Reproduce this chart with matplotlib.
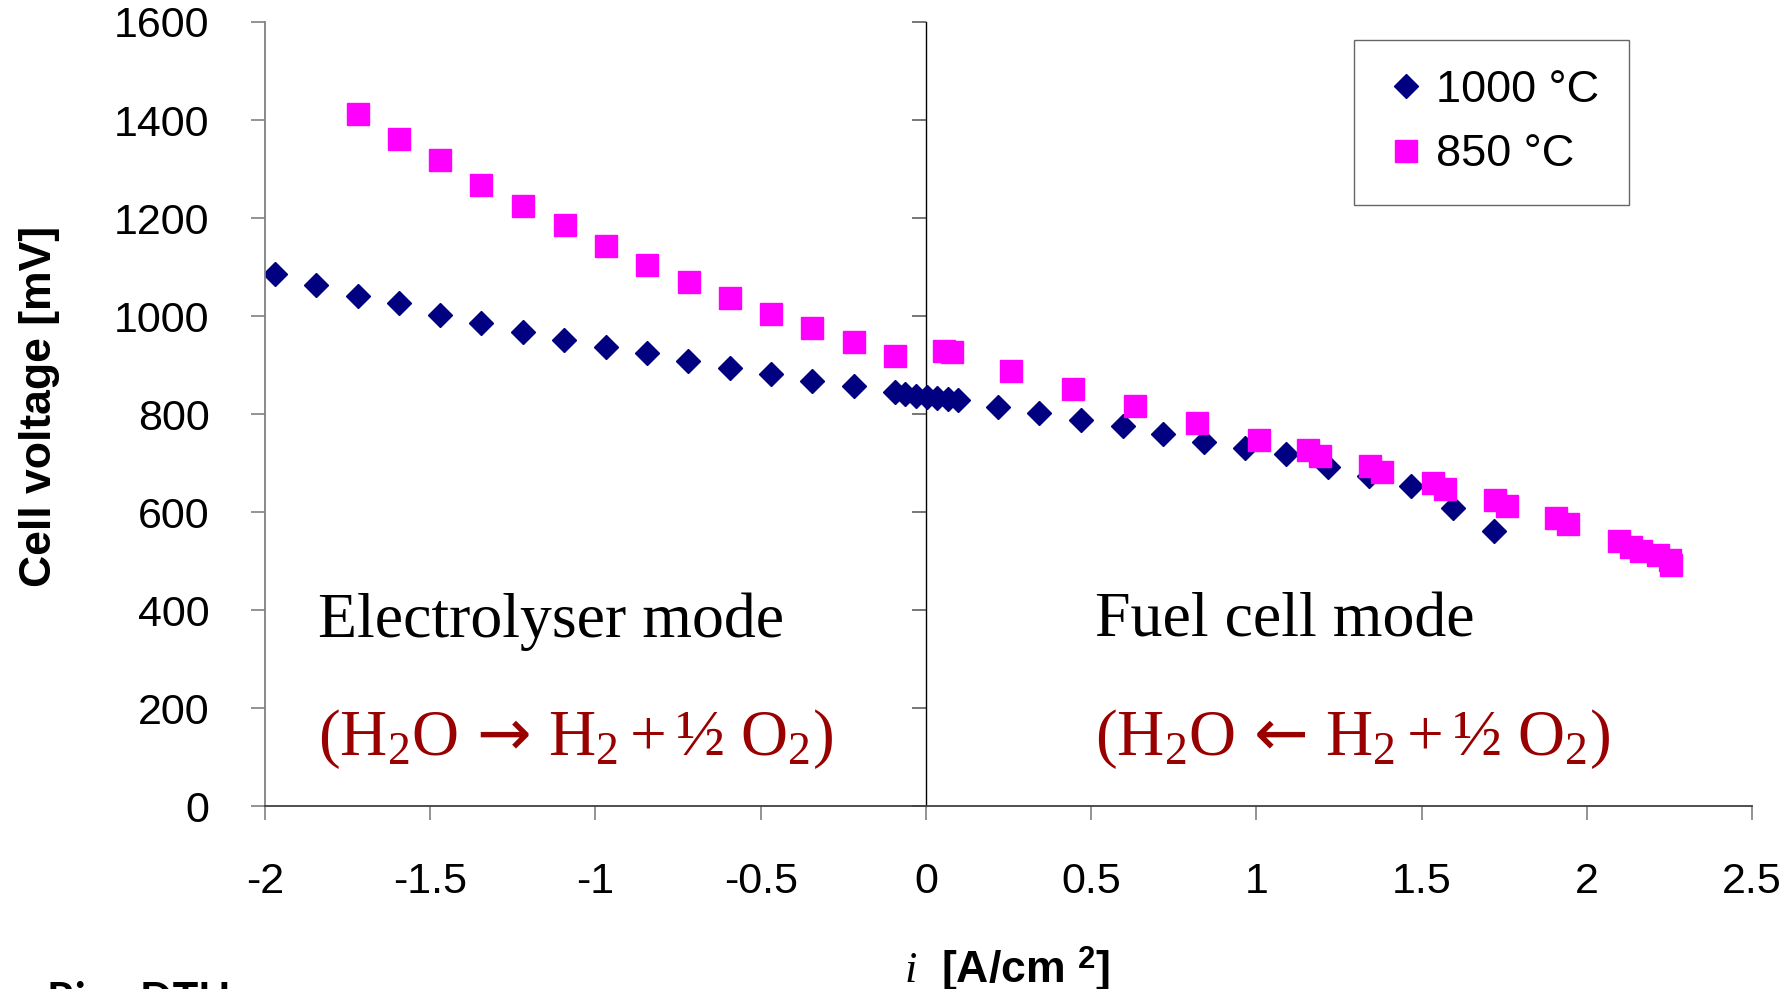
import matplotlib
matplotlib.use("Agg")
import matplotlib.pyplot as plt

plt.rcParams["axes.unicode_minus"] = False
plt.rcParams["mathtext.fontset"] = "custom"
plt.rcParams["mathtext.rm"] = "Liberation Serif"
plt.rcParams["mathtext.it"] = "Liberation Serif:italic"
plt.rcParams["mathtext.bf"] = "Liberation Sans:bold"
plt.rcParams["mathtext.sf"] = "DejaVu Sans"

# current density [A/cm2] and cell voltage [mV]
t1000_i = [-1.97, -1.845, -1.72, -1.596, -1.47, -1.346, -1.219, -1.095, -0.969, -0.845,
           -0.719, -0.593, -0.469, -0.345, -0.219, -0.093, -0.062, -0.030, 0.004, 0.033,
           0.066, 0.098, 0.217, 0.343, 0.469, 0.595, 0.718, 0.842, 0.967, 1.091,
           1.217, 1.342, 1.468, 1.594, 1.719]
t1000_v = [1085, 1064, 1040, 1026, 1003, 986, 967, 952, 937, 924,
           909, 895, 881, 868, 857, 845, 842, 838, 835, 832,
           830, 828, 814, 802, 788, 775, 760, 744, 731, 719,
           693, 673, 654, 608, 561]

t850_i = [-1.72, -1.596, -1.47, -1.345, -1.219, -1.093, -0.969, -0.843, -0.718, -0.593,
          -0.468, -0.345, -0.219, -0.093, 0.055, 0.08, 0.258, 0.445, 0.632, 0.82,
          1.009, 1.157, 1.194, 1.345, 1.381, 1.534, 1.570, 1.722, 1.758, 1.906,
          1.944, 2.096, 2.133, 2.165, 2.215, 2.251, 2.255]
t850_v = [1412, 1362, 1318, 1267, 1225, 1185, 1144, 1104, 1069, 1037,
          1005, 975, 948, 918, 928, 926, 889, 852, 817, 782,
          748, 727, 714, 695, 682, 659, 648, 625, 612, 588,
          576, 542, 530, 520, 513, 503, 492]

series_labels = ["1000 °C", "850 °C"]
x_ticks = [-2, -1.5, -1, -0.5, 0, 0.5, 1, 1.5, 2, 2.5]
x_tick_labels = ["-2", "-1.5", "-1", "-0.5", "0", "0.5", "1", "1.5", "2", "2.5"]
y_ticks = [0, 200, 400, 600, 800, 1000, 1200, 1400, 1600]

SANS = "Liberation Sans"
SERIF = "Liberation Serif"
RED = "#990000"

fig = plt.figure(figsize=(17.92, 9.89), dpi=100)
ax = fig.add_axes([0.1479, 0.1847, 0.8298, 0.7931])

ax.plot(t1000_i, t1000_v, linestyle="none", marker="D", markersize=12.5,
        color="#000080", label=series_labels[0])
ax.plot(t850_i, t850_v, linestyle="none", marker="s", markersize=16.5,
        color="#ff00ff", label=series_labels[1])

ax.set_xlim(-2, 2.5)
ax.set_ylim(0, 1600)
ax.set_xticks(x_ticks)
ax.set_xticklabels(x_tick_labels)
ax.set_yticks(y_ticks)
for lab in ax.get_xticklabels() + ax.get_yticklabels():
    lab.set_family(SANS)
    lab.set_fontsize(31)
ax.tick_params(axis="y", direction="out", length=10, width=1.2, color="#808080", pad=30)
ax.tick_params(axis="x", direction="out", length=10, width=1.2, color="#808080", pad=30)

ax.spines["top"].set_visible(False)
ax.spines["right"].set_visible(False)
ax.spines["left"].set_color("#808080")
ax.spines["left"].set_linewidth(1.3)
ax.spines["bottom"].set_color("#404040")
ax.spines["bottom"].set_linewidth(1.3)

# second vertical axis crossing at i = 0
sec = ax.secondary_yaxis(2 / 4.5)
sec.set_yticks(y_ticks)
sec.tick_params(axis="y", direction="out", length=10, width=1.2, color="#606060",
                labelleft=False, labelright=False)
sec.spines["left"].set_color("black")
sec.spines["left"].set_linewidth(1.0)

ax.set_ylabel("Cell voltage [mV]", family=SANS, fontsize=32, fontweight="bold")
ax.yaxis.set_label_coords(-0.138, 0.51)

fig.text(0.562, 0.006, r"$\mathit{i}$  [A/cm $^{\mathbf{2}}$]", family=SANS,
         fontsize=32, fontweight="bold", ha="center", va="baseline")
fig.text(0.026, 0.009, "Risø DTU", family="Lato", fontsize=31, fontweight="bold",
         ha="left", va="top")

ax.text(-1.84, 346, "Electrolyser mode", family=SERIF, fontsize=46, va="baseline")
ax.text(0.511, 346, "Fuel cell mode", family=SERIF, fontsize=46, va="baseline")
ax.text(-1.84, 105, r"$\mathrm{(H_2O\,\mathsf{\rightarrow}\,H_2 + ½\ O_2)}$", color=RED,
        fontsize=47, va="baseline")
ax.text(0.511, 105, r"$\mathrm{(H_2O\,\mathsf{\leftarrow}\,H_2 + ½\ O_2)}$", color=RED,
        fontsize=47, va="baseline")

leg = ax.legend(loc="upper left", bbox_to_anchor=(0.7556, 0.9595),
                bbox_transform=fig.transFigure, frameon=True, fancybox=False,
                edgecolor="#404040", prop={"family": SANS, "size": 32.5},
                borderpad=0.66, labelspacing=0.52, handlelength=1.0,
                handletextpad=0.15, borderaxespad=0)
leg.get_frame().set_linewidth(1.0)

fig.savefig("out.png", dpi=100)
